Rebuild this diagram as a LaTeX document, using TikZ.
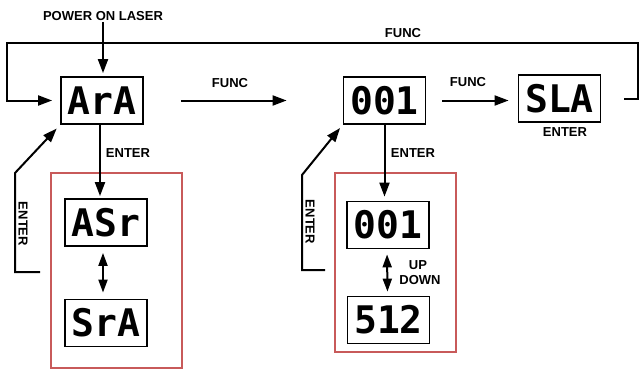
\documentclass[tikz,border=0pt]{standalone}
\usepackage{fontspec}
\setmainfont{Liberation Sans}
\newfontfamily\segfont{DejaVu Sans Mono}
\usetikzlibrary{arrows.meta}
\definecolor{rojocaja}{RGB}{200,90,90}

\begin{document}
\begin{tikzpicture}[x=1pt,y=-1pt,
    flecha/.style={line width=2pt, -{Triangle[length=14pt,width=10pt]}},
    doble/.style={line width=2pt, {Triangle[length=13pt,width=9pt]}-{Triangle[length=13pt,width=9pt]}},
    display/.style={draw, line width=1.8pt, minimum width=82pt, minimum height=47pt,
      inner sep=0pt, font=\segfont\bfseries\fontsize{38}{38}\selectfont},
    etiqueta/.style={inner sep=0pt, font=\bfseries\fontsize{13}{15}\selectfont},
    cajaroja/.style={draw=rojocaja, line width=1.3pt}]
    \useasboundingbox (0,0) rectangle (640,369);

    % Cajas rojas
    \draw[cajaroja] (51,173) rectangle (182,368);
    \draw[cajaroja] (335,173) rectangle (456,352);

    % Pantallas
    \node[display] (ara) at (102,100.5) {ArA};
    \node[display] (n001) at (384.5,100.5) {001};
    \node[display] (sla) at (559.5,98.5) {SLA};
    \node[display] (asr) at (106,222.5) {ASr};
    \node[display] (sra) at (106,323) {SrA};
    \node[display] (n001b) at (388,225) {001};
    \node[display] (n512) at (388.5,320) {512};

    % Etiquetas
    \node[etiqueta] (power) at (103,16) {POWER ON LASER};
    \node[etiqueta] (func0) at (403,33) {FUNC};
    \node[etiqueta] (func1) at (230,83) {FUNC};
    \node[etiqueta] (func2) at (468,82) {FUNC};
    \node[etiqueta] (enter1) at (128,153) {ENTER};
    \node[etiqueta] (enter2) at (413,153) {ENTER};
    \node[etiqueta] (enter3) at (565,132) {ENTER};
    \node[etiqueta] (up) at (418,265) {UP};
    \node[etiqueta] (down) at (420,280) {DOWN};
    \node[etiqueta, rotate=-90] (enterl) at (23,224) {ENTER};
    \node[etiqueta, rotate=-90] (enterm) at (310,222) {ENTER};

    % Esquinas de los retornos
    \coordinate (esqder) at (638,43);
    \coordinate (esqizq) at (7,43);
    \coordinate (retl1) at (40,272);
    \coordinate (retl2) at (15,272);
    \coordinate (retl3) at (15,173);
    \coordinate (retm1) at (325,270);
    \coordinate (retm2) at (302,270);
    \coordinate (retm3) at (302,175);

    % Encendido
    \draw[flecha, shorten >=3pt] (power.south |- 0,22) -- (power.south |- ara.north);

    % FUNC entre pantallas
    \draw[flecha, shorten <=37pt, shorten >=56pt] (ara.east) -- (n001.west |- ara.east);
    \draw[flecha, shorten <=16pt, shorten >=9pt] (n001.east) -- (sla.west |- n001.east);

    % Retorno superior
    \draw[flecha, shorten >=8pt] ([xshift=23pt]sla.east) -| (esqder) -| (esqizq) |- (ara.west);

    % ENTER hacia abajo
    \draw[flecha, shorten >=2pt] ([xshift=-2pt]ara.south) -- ([xshift=-2pt]ara.south |- asr.north);
    \draw[flecha, shorten >=4pt] (n001.south) -- (n001.south |- n001b.north);

    % Cambios entre valores
    \draw[doble, shorten <=6pt, shorten >=6pt] ([xshift=-3pt]asr.south) -- ([xshift=-3pt]sra.north);
    \draw[doble, shorten <=5pt, shorten >=4pt] ([xshift=-1pt]n001b.south) -- ([xshift=-1pt]n512.north);

    % Retornos ENTER
    \draw[flecha, shorten >=5pt] (retl1) -- (retl2) -- (retl3) -- (ara.south west);
    \draw[flecha, shorten >=4pt] (retm1) -- (retm2) -- (retm3) -- (n001.south west);
\end{tikzpicture}
\end{document}
